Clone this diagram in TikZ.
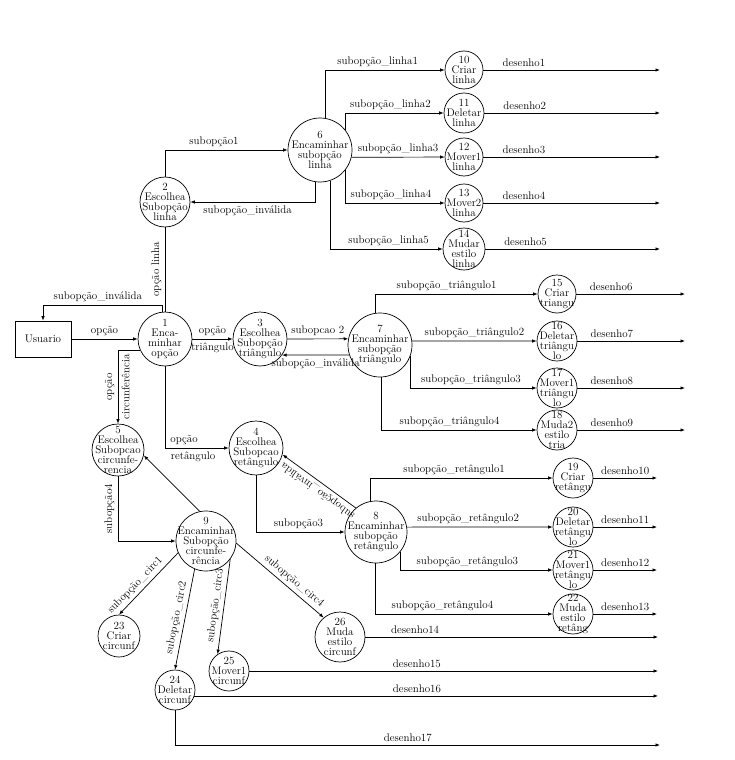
\documentclass[tikz,border=0pt]{standalone}
\usepackage{amsmath,amssymb}
\usepackage{tikz}
\usetikzlibrary{arrows.meta}

\begin{document}
\begin{tikzpicture}[x=1pt, y=-1pt, line width=0.7pt,
    font=\fontsize{11}{10}\selectfont,
    arr/.style={-{Latex[length=4.5pt,width=3.5pt]}},
    proc/.style={circle, draw, inner sep=0pt},
    txt/.style={label={[align=center]center:#1}}]
      \useasboundingbox (0,0) rectangle (735,760);

      % right ends of the output arrows
      \coordinate (endL) at (660,0);
      \coordinate (endT) at (685,0);
      \coordinate (endR) at (657,0);
      \coordinate (endC) at (658,0);
      \coordinate (d17) at (660,745);

      \node[draw, minimum width=56pt, minimum height=36pt] (usr) at (43,339) {Usuario};
      \node[proc, minimum size=54pt, txt={1\\Enca-\\minhar\\opção}] (n1) at (165,339) {};
      \node[proc, minimum size=50pt, txt={2\\Escolhea\\Subopção\\linha}] (n2) at (165,202) {};
      \node[proc, minimum size=54pt, txt={3\\Escolhea\\Subopção\\triângulo}] (n3) at (260,339) {};
      \node[proc, minimum size=54pt, txt={4\\Escolhea\\Subopcao\\retângulo}] (n4) at (256,448) {};
      \node[proc, minimum size=52pt, txt={5\\Escolhea\\Subopcao\\circunfe-\\rencia}] (n5) at (118,450) {};
      \node[proc, minimum size=64pt, txt={6\\Encaminhar\\subopção\\linha}] (n6) at (320,150) {};
      \node[proc, minimum size=64pt, txt={7\\Encaminhar\\subopção\\triângulo}] (n7) at (380,345) {};
      \node[proc, minimum size=62pt, txt={8\\Encaminhar\\subopção\\retângulo}] (n8) at (376,532) {};
      \node[proc, minimum size=60pt, txt={9\\Encaminhar\\Subopção\\circunfe-\\rência}] (n9) at (206,541) {};

      \node[proc, minimum size=38pt, txt={10\\Criar\\linha}] (n10) at (464,70) {};
      \node[proc, minimum size=40pt, txt={11\\Deletar\\linha}] (n11) at (464,113) {};
      \node[proc, minimum size=38pt, txt={12\\Mover1\\linha}] (n12) at (464,157) {};
      \node[proc, minimum size=38pt, txt={13\\Mover2\\linha}] (n13) at (464,203) {};
      \node[proc, minimum size=42pt, txt={14\\Mudar\\estilo\\linha}] (n14) at (464,249) {};

      \node[proc, minimum size=38pt, txt={15\\Criar\\triangu}] (n15) at (557,294) {};
      \node[proc, minimum size=40pt, txt={16\\Deletar\\triângu\\lo}] (n16) at (557,341) {};
      \node[proc, minimum size=40pt, txt={17\\Mover1\\triângu\\lo}] (n17) at (557,388) {};
      \node[proc, minimum size=40pt, txt={18\\Muda2\\estilo\\tria}] (n18) at (557,430) {};

      \node[proc, minimum size=40pt, txt={19\\Criar\\retângu}] (n19) at (573,478) {};
      \node[proc, minimum size=40pt, txt={20\\Deletar\\retângu\\lo}] (n20) at (573,527) {};
      \node[proc, minimum size=40pt, txt={21\\Mover1\\retângu\\lo}] (n21) at (573,570) {};
      \node[proc, minimum size=40pt, txt={22\\Muda\\estilo\\retâng}] (n22) at (573,614) {};

      \node[proc, minimum size=42pt, txt={23\\Criar\\circunf}] (n23) at (119,636) {};
      \node[proc, minimum size=40pt, txt={24\\Deletar\\circunf}] (n24) at (175,690) {};
      \node[proc, minimum size=40pt, txt={25\\Mover1\\circunf}] (n25) at (229,671) {};
      \node[proc, minimum size=50pt, txt={26\\Muda\\estilo\\circunf}] (n26) at (340,637) {};

      % user and option 1
      \draw[arr] (usr) -- (n1) node[midway,above] {opção};
      \draw[arr] (n1.96) -- ++(0,-6) -| (usr) node[pos=0.27,above] {subopção\_inválida};
      \draw (n1) -- (n2) node[midway,rotate=90,anchor=south] {opção linha};
      \draw[arr] (n1) -- (n3) node[midway,above] {opção} node[midway,below] {triângulo};
      \draw[arr] (n1) |- (n4) node[pos=0.65,above] {opção} node[pos=0.72,below] {retângulo};
      \draw[arr] (n1.204) -| (n5) node[pos=0.75,rotate=90,anchor=south] {opção}
        node[pos=0.75,rotate=90,anchor=north] {circunferência};

      % line
      \draw[arr] (n2.north) |- (n6) node[pos=0.7,above] {subopção1};
      \draw[arr] (n6.-99) |- (n2) node[pos=0.77,below] {subopção\_inválida};
      \draw[arr] (n6.81) |- (n10) node[pos=0.72,above] {subopção\_linha1};
      \draw[arr] (n6.39) |- (n11) node[pos=0.73,above] {subopção\_linha2};
      \draw[arr] (n6.-13) -- (n12) node[midway,above] {subopção\_linha3};
      \draw[arr] (n6.-39) |- (n13) node[pos=0.73,above] {subopção\_linha4};
      \draw[arr] (n6.-72) |- (n14) node[pos=0.76,above] {subopção\_linha5};

      % triangle
      \draw[arr] (n3) -- (n7.169) node[midway,above] {subopcao 2};
      \draw[arr] (n7.198) -- (n3.-36) node[midway,below] {subopção\_inválida};
      \draw[arr] (n7.99) |- (n15) node[pos=0.72,above] {subopção\_triângulo1};
      \draw[arr] (n7.7) -- (n16) node[midway,above] {subopção\_triângulo2};
      \draw[arr] (n7.-20) |- (n17) node[pos=0.74,above] {subopção\_triângulo3};
      \draw[arr] (n7.-88) |- (n18) node[pos=0.72,above] {subopção\_triângulo4};

      % rectangle
      \draw[arr] (n4) |- (n8) node[pos=0.74,above] {subopção3};
      \draw[arr] (n8.130) -- (n4.-14) node[pos=0.45,rotate=144,anchor=south] {subopção\_inválida};
      \draw[arr] (n8.101) |- (n19) node[pos=0.73,above] {subopção\_retângulo1};
      \draw[arr] (n8.9) -- (n20) node[pos=0.42,above] {subopção\_retângulo2};
      \draw[arr] (n8.-39) |- (n21) node[pos=0.72,above] {subopção\_retângulo3};
      \draw[arr] (n8.-92) |- (n22) node[pos=0.69,above] {subopção\_retângulo4};

      % circumference
      \draw[arr] (n5) |- (n9) node[pos=0.25,rotate=90,anchor=south] {subopção4};
      \draw[arr] (n9.102) -- (n5.-12);
      \draw[arr] (n9.203) -- (n23.north) node[pos=0.62,sloped,above] {subopção\_circ1};
      \draw[arr] (n9.-112) -- (n24.north) node[midway,sloped,above] {subopção\_circ2};
      \draw[arr] (n9.-37) -- (n25.124) node[midway,sloped,above] {subopção\_circ3};
      \draw[arr] (n9.-4) -- (n26.130) node[pos=0.6,sloped,above] {subopção\_circ4};

      % drawings
      \foreach \n/\d/\e/\p in {10/1/endL/.23, 11/2/endL/.23, 12/3/endL/.23, 13/4/endL/.23,
          14/5/endL/.23, 15/6/endT/.32, 16/7/endT/.32, 17/8/endT/.32, 18/9/endT/.32,
          19/10/endR/.5, 20/11/endR/.5, 21/12/endR/.5, 22/13/endR/.5,
          26/14/endC/.17, 25/15/endC/.41}
        \draw[arr] (n\n) -- (n\n -| \e) node[pos=\p,above] {desenho\d};
      \draw[arr] (n24.-17) -- (n24.-17 -| endC) node[pos=0.48,above] {desenho16};
      \draw[arr] (n24) |- (d17) node[pos=0.74,above] {desenho17};
\end{tikzpicture}
\end{document}
